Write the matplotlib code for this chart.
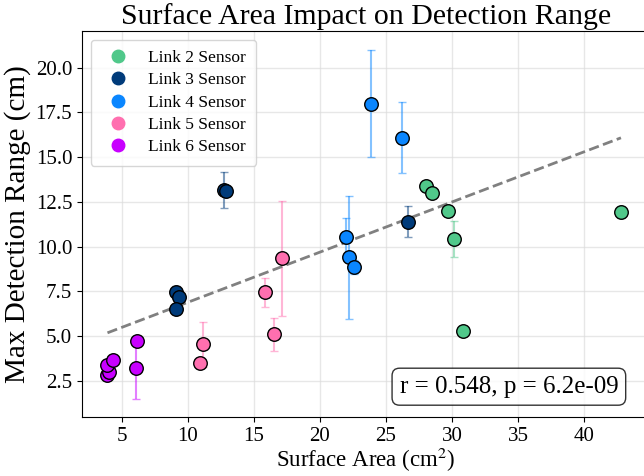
import matplotlib
matplotlib.use("Agg")
import matplotlib.pyplot as plt
import numpy as np

plt.rcParams['font.family'] = ['Liberation Serif', 'DejaVu Serif']
plt.rcParams['mathtext.fontset'] = 'stix'

# Data per sensor group: surface area (cm^2), max detection range (cm), std error
link2_x = [28.0, 28.5, 29.7, 30.15, 30.8, 42.8]
link2_y = [13.4, 13.0, 12.0, 10.45, 5.3, 11.95]
link2_e = [0.1, 0.1, 0.1, 1.0, 0.3, 0.35]

link3_x = [9.1, 9.3, 9.1, 12.7, 12.9, 26.7]
link3_y = [7.45, 7.2, 6.5, 13.15, 13.1, 11.4]
link3_e = [0.35, 0.1, 0.1, 1.0, 0.1, 0.85]

link4_x = [23.9, 26.2, 22.0, 22.2, 22.6]
link4_y = [18.0, 16.1, 10.55, 9.4, 8.85]
link4_e = [3.0, 2.0, 1.07, 3.45, 0.4]

link5_x = [10.9, 11.1, 15.8, 16.5, 17.15]
link5_y = [3.5, 4.55, 7.45, 5.1, 9.35]
link5_e = [0.1, 1.25, 0.8, 0.9, 3.2]

link6_x = [3.9, 4.0, 3.9, 4.3, 6.1, 6.05]
link6_y = [2.85, 3.0, 3.4, 3.7, 4.75, 3.2]
link6_e = [0.1, 0.1, 0.1, 0.1, 0.1, 1.7]

labels = ["Link 2 Sensor", "Link 3 Sensor", "Link 4 Sensor", "Link 5 Sensor", "Link 6 Sensor"]
colors = ["#50C88A", "#003B7A", "#0A86FF", "#FF6FAF", "#C800FF"]

fit_slope = 0.280
fit_intercept = 4.10
stats_text = "r = 0.548, p = 6.2e-09"

groups = [
    (link2_x, link2_y, link2_e),
    (link3_x, link3_y, link3_e),
    (link4_x, link4_y, link4_e),
    (link5_x, link5_y, link5_e),
    (link6_x, link6_y, link6_e),
]

fig = plt.figure(figsize=(6.44, 4.76), dpi=100)
ax = fig.add_axes([82/644, (476-417)/476, (650-82)/644, (417-31)/476])

for (x, y, e), c, lab in zip(groups, colors, labels):
    ax.errorbar(x, y, yerr=e, fmt='none', ecolor=c, alpha=0.5, capsize=3, elinewidth=1.5, zorder=2)
    ax.scatter(x, y, s=95, color=c, edgecolor='black', linewidth=1, zorder=3)
    ax.plot([], [], 'o', color=c, markersize=9, label=lab, linestyle='none')

all_x = np.concatenate([np.array(g[0]) for g in groups])
xs = np.array([all_x.min(), all_x.max()])
ax.plot(xs, fit_slope * xs + fit_intercept, '--', color='gray', linewidth=2, zorder=2.5)

ax.set_xlim(1.97, 45)
ax.set_ylim(0.49, 22.05)
ax.set_xticks([5, 10, 15, 20, 25, 30, 35, 40])
ax.set_yticks([2.5, 5.0, 7.5, 10.0, 12.5, 15.0, 17.5, 20.0])
ax.tick_params(labelsize=15)
ax.grid(True, color='#dddddd', alpha=0.7, linewidth=1)
ax.set_axisbelow(True)
ax.spines['right'].set_visible(False)

ax.set_title("Surface Area Impact on Detection Range", fontsize=21.5, pad=5)
ax.set_xlabel("Surface Area (cm$^2$)", fontsize=16.5, labelpad=0)
ax.set_ylabel("Max Detection Range (cm)", fontsize=21, labelpad=3)

ax.legend(loc='upper left', fontsize=12.5, frameon=True, borderpad=0.6, handletextpad=0.7,
          labelspacing=0.35)

ax.text(0.944, 0.05, stats_text, transform=ax.transAxes, fontsize=18, ha='right', va='bottom',
        bbox=dict(boxstyle='round,pad=0.3', facecolor='white', edgecolor='black', alpha=0.8))

fig.savefig("out.png", dpi=100)
